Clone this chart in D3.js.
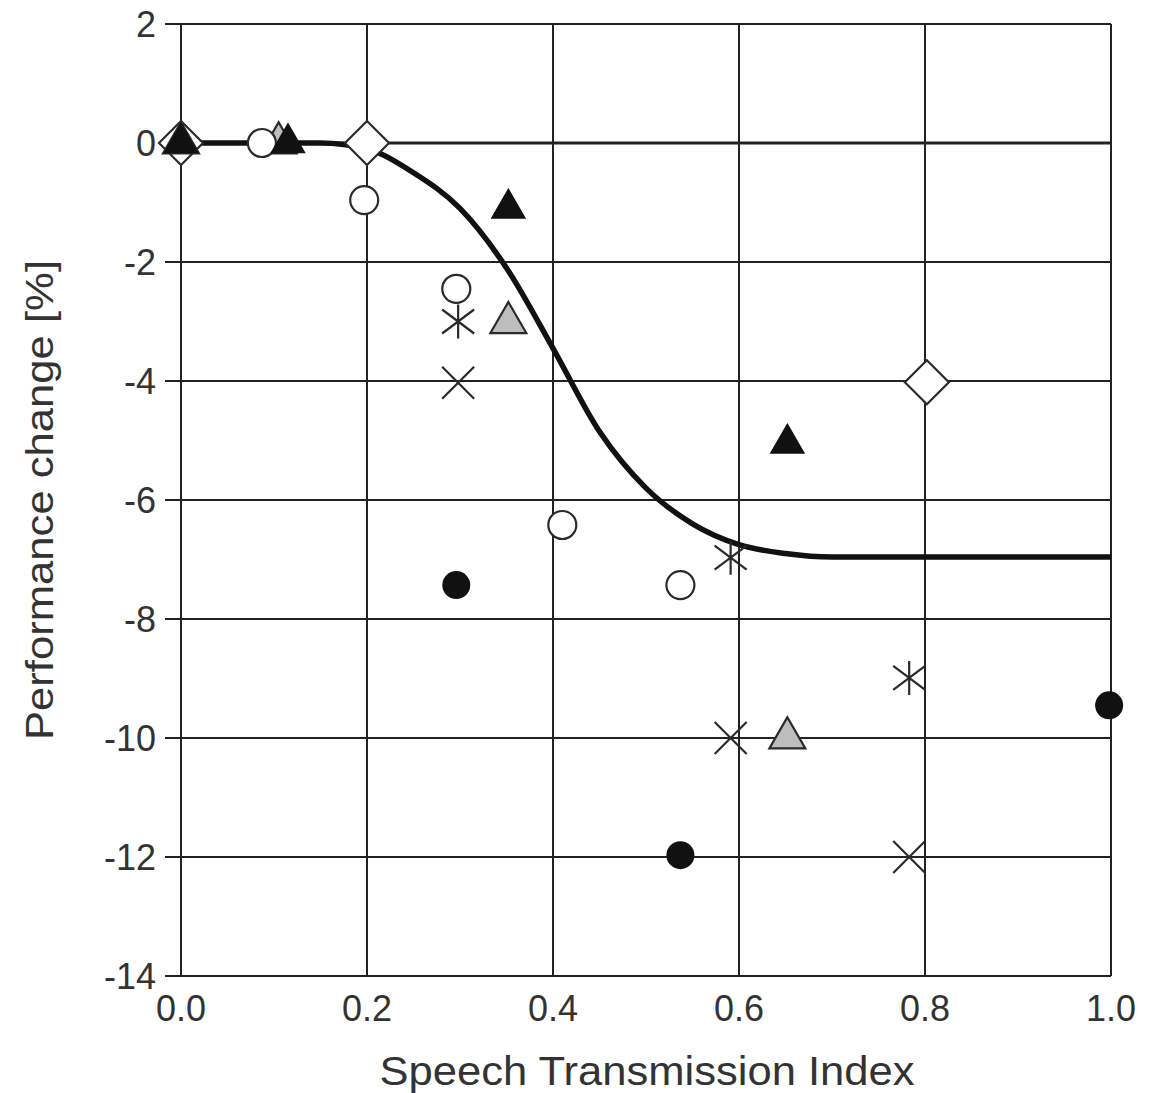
<!DOCTYPE html>
<meta charset="utf-8">
<body style="margin:0;background:#fff">
<script src="https://cdn.jsdelivr.net/npm/d3@7"></script>
<style>
text { font-family: "Liberation Sans", Arial, sans-serif; fill: #333; }
</style>
<svg id="chart" width="1155" height="1093"></svg>
<script>
// data
var xTicks = [0.0, 0.2, 0.4, 0.6, 0.8, 1.0]
var yTicks = [2, 0, -2, -4, -6, -8, -10, -12, -14]

var fitCurve = [[0,0],[0.15,0],[0.2,-0.1],[0.25,-0.5],[0.3,-1.1],[0.35,-2.1],[0.4,-3.45],
  [0.45,-4.85],[0.5,-5.8],[0.55,-6.4],[0.6,-6.75],[0.65,-6.9],[0.7,-6.96],[1.0,-6.96]]

var diamonds    = [[0.0,0],[0.2,0],[0.802,-4.02]]
var openCircles = [[0.087,0],[0.197,-0.96],[0.296,-2.45],[0.41,-6.42],[0.537,-7.43]]
var grayTri     = [[0.0,0],[0.105,0],[0.352,-3.02],[0.652,-10.0]]
var blackTri    = [[0.0,0],[0.115,0],[0.352,-1.1],[0.652,-5.05]]
var stars       = [[0.298,-3.0],[0.591,-6.97],[0.783,-8.99]]
var crosses     = [[0.298,-4.03],[0.591,-10.0],[0.783,-12.0]]
var dots        = [[0.296,-7.43],[0.537,-11.97],[0.998,-9.45]]

var svg = d3.select('#chart')
var L = 181, R = 1111, T = 24, B = 976

var x = d3.scaleLinear().domain([0, 1]).range([L, R])
var y = d3.scaleLinear().domain([-14, 2]).range([B, T])

// grid
svg.append('g').selectAll('line').data(xTicks).enter().append('line')
  .attr('x1', d => x(d)).attr('x2', d => x(d)).attr('y1', T).attr('y2', B)
  .attr('stroke', '#222').attr('stroke-width', 2)
svg.append('g').selectAll('line').data(yTicks).enter().append('line')
  .attr('x1', d => x(0) - 16).attr('x2', R).attr('y1', d => y(d)).attr('y2', d => y(d))
  .attr('stroke', '#222').attr('stroke-width', d => d === 0 ? 3.2 : 2)

// tick labels
svg.append('g').selectAll('text').data(yTicks).enter().append('text')
  .attr('x', 156).attr('y', d => y(d)).attr('dy', '0.36em')
  .attr('text-anchor', 'end').style('font-size', '36px')
  .text(d => d)
svg.append('g').selectAll('text').data(xTicks).enter().append('text')
  .attr('x', d => x(d)).attr('y', 1021)
  .attr('text-anchor', 'middle').style('font-size', '36px')
  .text(d => d.toFixed(1))

svg.append('text').attr('x', 647).attr('y', 1085).attr('text-anchor', 'middle')
  .style('font-size', '40px').attr('textLength', 535).attr('lengthAdjust', 'spacingAndGlyphs')
  .text('Speech Transmission Index')
svg.append('text').attr('transform', 'translate(53,' + 500 + ') rotate(-90)')
  .attr('text-anchor', 'middle').style('font-size', '39px')
  .attr('textLength', 480).attr('lengthAdjust', 'spacingAndGlyphs')
  .text('Performance change [%]')

// fitted curve
var line = d3.line().x(d => x(d[0])).y(d => y(d[1])).curve(d3.curveMonotoneX)
svg.append('path').datum(fitCurve).attr('d', line)
  .attr('fill', 'none').attr('stroke', '#111').attr('stroke-width', 5.5)

var pts = svg.append('g')
var ink = '#2a2a2a'

// diamonds
pts.selectAll('.dia').data(diamonds).enter().append('path')
  .attr('transform', d => 'translate(' + x(d[0]) + ',' + y(d[1]) + ')')
  .attr('d', 'M0,-22L22,0L0,22L-22,0Z')
  .attr('fill', '#fff').attr('stroke', ink).attr('stroke-width', 2.2)

var tri = d3.symbol().type(d3.symbolTriangle).size(560)
pts.selectAll('.gt').data(grayTri).enter().append('path')
  .attr('transform', d => 'translate(' + x(d[0]) + ',' + y(d[1]) + ')')
  .attr('d', tri).attr('fill', '#bdbdbd').attr('stroke', ink).attr('stroke-width', 2.2)

pts.selectAll('.oc').data(openCircles).enter().append('circle')
  .attr('cx', d => x(d[0])).attr('cy', d => y(d[1])).attr('r', 14)
  .attr('fill', '#fff').attr('stroke', ink).attr('stroke-width', 2.2)

pts.selectAll('.bt').data(blackTri).enter().append('path')
  .attr('transform', d => 'translate(' + x(d[0]) + ',' + y(d[1]) + ')')
  .attr('d', d3.symbol().type(d3.symbolTriangle).size(470))
  .attr('fill', '#111').attr('stroke', '#111').attr('stroke-width', 1.5)

pts.selectAll('.dot').data(dots).enter().append('circle')
  .attr('cx', d => x(d[0])).attr('cy', d => y(d[1])).attr('r', 14)
  .attr('fill', '#111')

pts.selectAll('.cr').data(crosses).enter().append('path')
  .attr('transform', d => 'translate(' + x(d[0]) + ',' + y(d[1]) + ')')
  .attr('d', 'M-16,-16L16,16M-16,16L16,-16')
  .attr('fill', 'none').attr('stroke', ink).attr('stroke-width', 2.2)

pts.selectAll('.st').data(stars).enter().append('path')
  .attr('transform', d => 'translate(' + x(d[0]) + ',' + y(d[1]) + ')')
  .attr('d', 'M-16,-12L16,12M-16,12L16,-12M0,-17L0,17')
  .attr('fill', 'none').attr('stroke', ink).attr('stroke-width', 2.2)
</script>
</body>
